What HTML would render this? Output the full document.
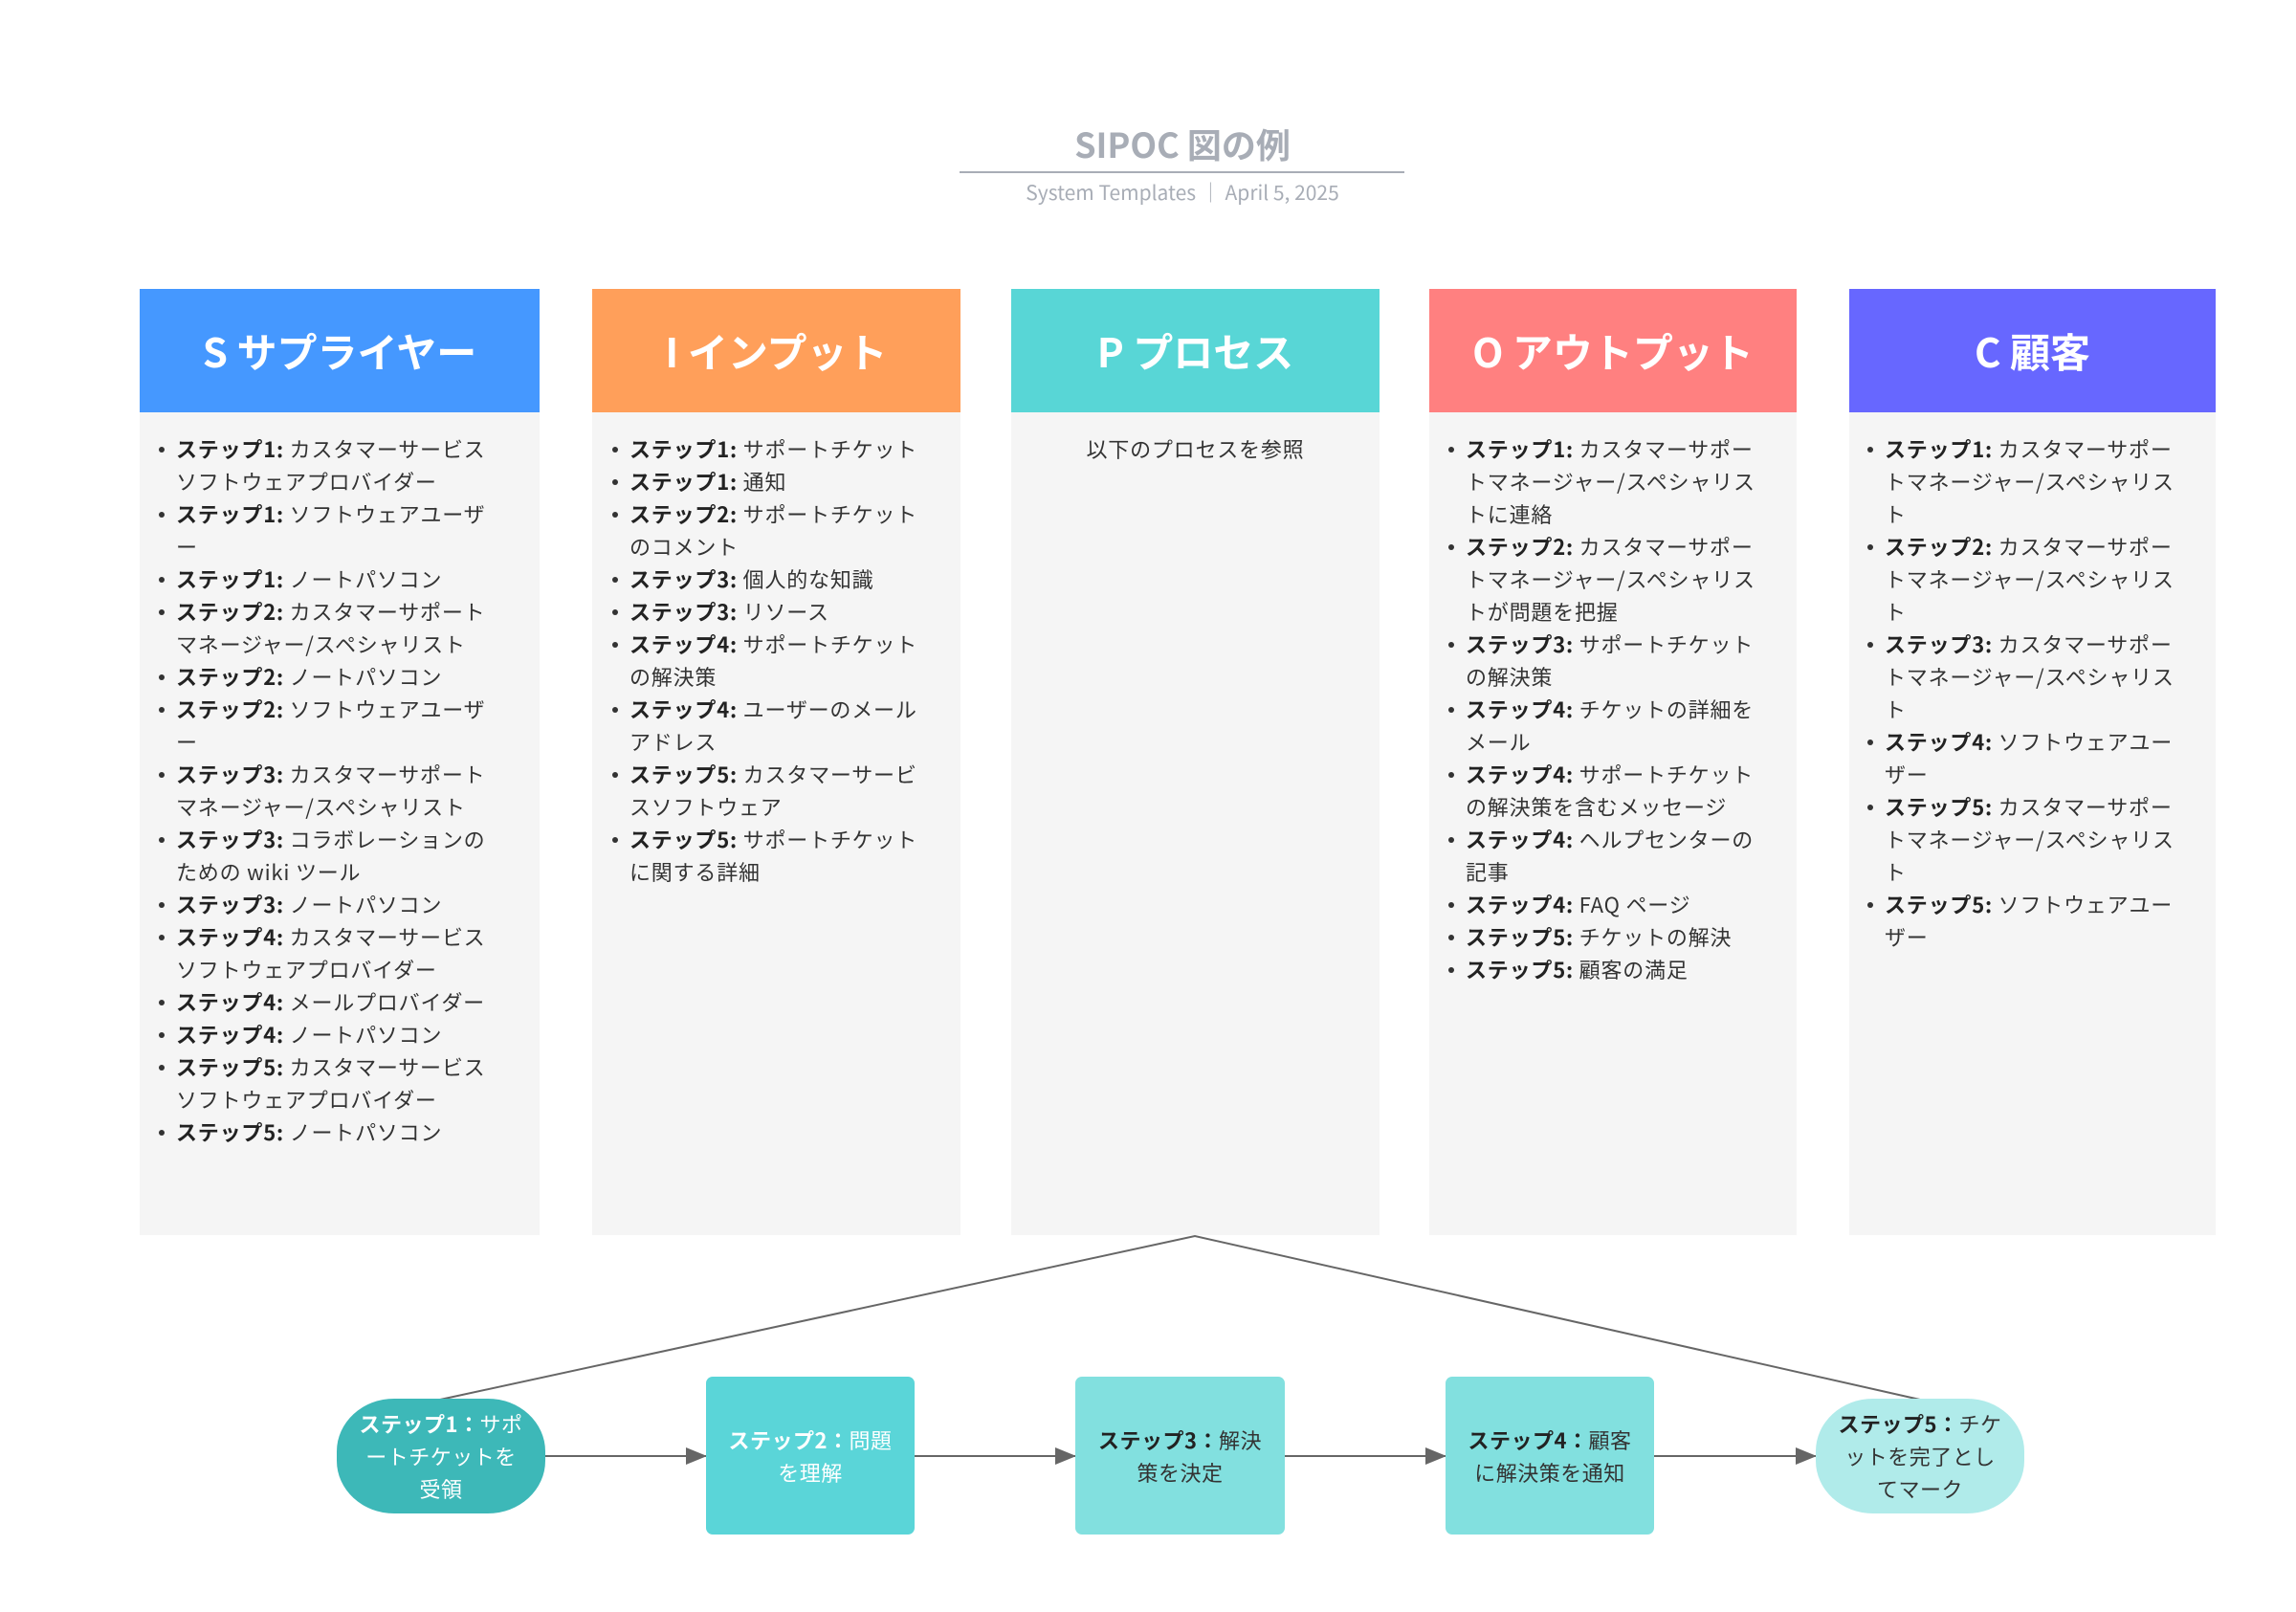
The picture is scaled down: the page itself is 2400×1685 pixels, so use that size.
<!DOCTYPE html>
<html><head><meta charset="utf-8"><style>
*{margin:0;padding:0;box-sizing:border-box}
body{width:2400px;height:1685px;background:#fff;position:relative;overflow:hidden;font-family:"Liberation Sans","Noto Sans CJK JP",sans-serif;color:#333}
.abs{position:absolute}
.hd{position:absolute;top:302px;height:129px;color:#fff;font-weight:bold;font-size:42px;display:flex;align-items:center;justify-content:center;font-family:"Noto Sans CJK JP",sans-serif}
.bd{position:absolute;top:431px;height:860px;background:#f5f5f5}
.list{position:absolute;top:452px;font-size:22px;line-height:34px;letter-spacing:0.8px;white-space:nowrap;font-family:"Noto Sans CJK JP",sans-serif}
.list div{position:relative}
.list div::before{content:"";position:absolute;left:-18px;top:15px;width:6px;height:6px;border-radius:50%;background:#333}
b{font-weight:bold;color:#222}
.node{position:absolute;display:flex;align-items:center;justify-content:center;text-align:center;font-size:22px;line-height:34px;font-family:"Noto Sans CJK JP",sans-serif;letter-spacing:0.5px}
</style></head><body>
<div class="abs" style="left:0;width:2400px;top:125px;text-align:center;font-size:36px;font-weight:bold;color:#a8adb6;font-family:'Noto Sans CJK JP',sans-serif;line-height:50px;padding-left:72px">SIPOC 図の例</div>
<div class="abs" style="left:1003px;top:179px;width:465px;height:2px;background:#a8adb6"></div>
<div class="abs" style="left:0;width:2400px;top:187px;text-align:center;font-size:21px;color:#a8adb6;line-height:28px;padding-left:72px;font-family:'Noto Sans CJK JP',sans-serif">System Templates ｜ April 5, 2025</div>

<div class="hd" style="left:146px;width:418px;background:#4598ff">S サプライヤー</div>
<div class="hd" style="left:619px;width:385px;background:#ff9f5a">I インプット</div>
<div class="hd" style="left:1057px;width:385px;background:#58d6d6">P プロセス</div>
<div class="hd" style="left:1494px;width:384px;background:#ff8080">O アウトプット</div>
<div class="hd" style="left:1933px;width:383px;background:#6767ff">C 顧客</div>

<div class="bd" style="left:146px;width:418px"></div>
<div class="bd" style="left:619px;width:385px"></div>
<div class="bd" style="left:1057px;width:385px"></div>
<div class="bd" style="left:1494px;width:384px"></div>
<div class="bd" style="left:1933px;width:383px"></div>

<div class="list" style="left:184px">
<div><b>ステップ1:</b> カスタマーサービス<br>ソフトウェアプロバイダー</div>
<div><b>ステップ1:</b> ソフトウェアユーザ<br>ー</div>
<div><b>ステップ1:</b> ノートパソコン</div>
<div><b>ステップ2:</b> カスタマーサポート<br>マネージャー/スペシャリスト</div>
<div><b>ステップ2:</b> ノートパソコン</div>
<div><b>ステップ2:</b> ソフトウェアユーザ<br>ー</div>
<div><b>ステップ3:</b> カスタマーサポート<br>マネージャー/スペシャリスト</div>
<div><b>ステップ3:</b> コラボレーションの<br>ための wiki ツール</div>
<div><b>ステップ3:</b> ノートパソコン</div>
<div><b>ステップ4:</b> カスタマーサービス<br>ソフトウェアプロバイダー</div>
<div><b>ステップ4:</b> メールプロバイダー</div>
<div><b>ステップ4:</b> ノートパソコン</div>
<div><b>ステップ5:</b> カスタマーサービス<br>ソフトウェアプロバイダー</div>
<div><b>ステップ5:</b> ノートパソコン</div>
</div>

<div class="list" style="left:658px">
<div><b>ステップ1:</b> サポートチケット</div>
<div><b>ステップ1:</b> 通知</div>
<div><b>ステップ2:</b> サポートチケット<br>のコメント</div>
<div><b>ステップ3:</b> 個人的な知識</div>
<div><b>ステップ3:</b> リソース</div>
<div><b>ステップ4:</b> サポートチケット<br>の解決策</div>
<div><b>ステップ4:</b> ユーザーのメール<br>アドレス</div>
<div><b>ステップ5:</b> カスタマーサービ<br>スソフトウェア</div>
<div><b>ステップ5:</b> サポートチケット<br>に関する詳細</div>
</div>

<div class="abs" style="left:1057px;width:385px;top:452px;text-align:center;font-size:22px;line-height:34px;letter-spacing:0.8px;font-family:'Noto Sans CJK JP',sans-serif">以下のプロセスを参照</div>

<div class="list" style="left:1532px">
<div><b>ステップ1:</b> カスタマーサポー<br>トマネージャー/スペシャリス<br>トに連絡</div>
<div><b>ステップ2:</b> カスタマーサポー<br>トマネージャー/スペシャリス<br>トが問題を把握</div>
<div><b>ステップ3:</b> サポートチケット<br>の解決策</div>
<div><b>ステップ4:</b> チケットの詳細を<br>メール</div>
<div><b>ステップ4:</b> サポートチケット<br>の解決策を含むメッセージ</div>
<div><b>ステップ4:</b> ヘルプセンターの<br>記事</div>
<div><b>ステップ4:</b> FAQ ページ</div>
<div><b>ステップ5:</b> チケットの解決</div>
<div><b>ステップ5:</b> 顧客の満足</div>
</div>

<div class="list" style="left:1970px">
<div><b>ステップ1:</b> カスタマーサポー<br>トマネージャー/スペシャリス<br>ト</div>
<div><b>ステップ2:</b> カスタマーサポー<br>トマネージャー/スペシャリス<br>ト</div>
<div><b>ステップ3:</b> カスタマーサポー<br>トマネージャー/スペシャリス<br>ト</div>
<div><b>ステップ4:</b> ソフトウェアユー<br>ザー</div>
<div><b>ステップ5:</b> カスタマーサポー<br>トマネージャー/スペシャリス<br>ト</div>
<div><b>ステップ5:</b> ソフトウェアユー<br>ザー</div>
</div>

<svg class="abs" style="left:0;top:0" width="2400" height="1685">
<defs><marker id="a2" markerWidth="22" markerHeight="18" refX="21" refY="9" orient="auto" markerUnits="userSpaceOnUse"><path d="M0,0 L22,9 L0,18 z" fill="#666"/></marker></defs>
<polyline points="460,1463 1249,1292 2007,1463" fill="none" stroke="#666" stroke-width="2"/>
<line x1="569" y1="1522" x2="738" y2="1522" stroke="#666" stroke-width="2" marker-end="url(#a2)"/>
<line x1="956" y1="1522" x2="1124" y2="1522" stroke="#666" stroke-width="2" marker-end="url(#a2)"/>
<line x1="1343" y1="1522" x2="1511" y2="1522" stroke="#666" stroke-width="2" marker-end="url(#a2)"/>
<line x1="1729" y1="1522" x2="1898" y2="1522" stroke="#666" stroke-width="2" marker-end="url(#a2)"/>
</svg>

<div class="node" style="left:352px;top:1462px;width:218px;height:120px;border-radius:60px/55px;background:#3db8b8;color:#fff"><div><b style="color:#fff">ステップ1：</b>サポ<br>ートチケットを<br>受領</div></div>
<div class="node" style="left:738px;top:1439px;width:218px;height:165px;border-radius:7px;background:#5ad5d8;color:#fff"><div><b style="color:#fff">ステップ2：</b>問題<br>を理解</div></div>
<div class="node" style="left:1124px;top:1439px;width:219px;height:165px;border-radius:7px;background:#82e0df;color:#333"><div><b>ステップ3：</b>解決<br>策を決定</div></div>
<div class="node" style="left:1511px;top:1439px;width:218px;height:165px;border-radius:7px;background:#82e0df;color:#333"><div><b>ステップ4：</b>顧客<br>に解決策を通知</div></div>
<div class="node" style="left:1898px;top:1462px;width:218px;height:120px;border-radius:60px/55px;background:#b0ebea;color:#333"><div><b>ステップ5：</b>チケ<br>ットを完了とし<br>てマーク</div></div>
</body></html>
